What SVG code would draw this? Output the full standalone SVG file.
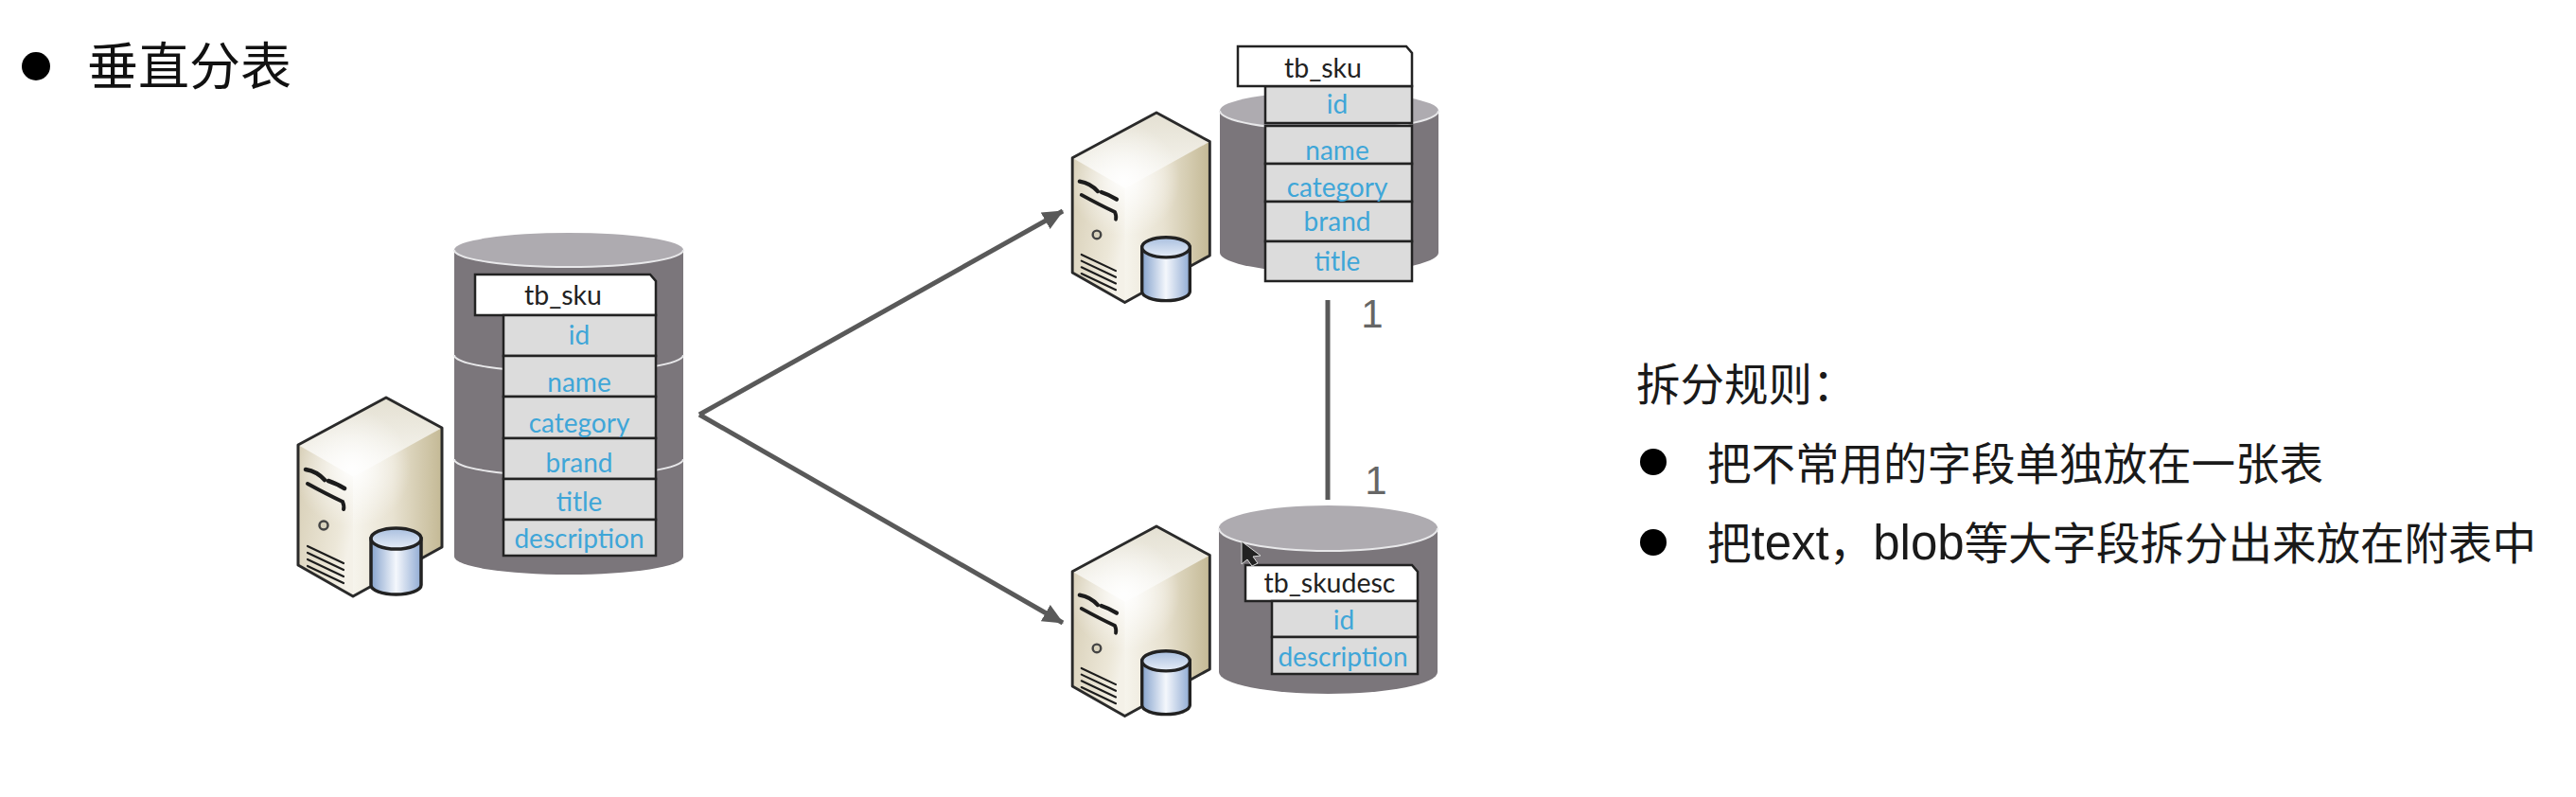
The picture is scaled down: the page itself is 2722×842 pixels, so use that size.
<svg xmlns="http://www.w3.org/2000/svg" width="2722" height="842" viewBox="0 0 2722 842">
<style>
.body{fill:#7b767b}
.lid{fill:#aeabb0}
.edge{fill:none;stroke:#e8e8ea;stroke-width:2}
.head{fill:#fff;stroke:#222;stroke-width:2.5}
.row{fill:#dcdcdc;stroke:#222;stroke-width:2.5}
.fld{font-family:Lato,"Liberation Sans",sans-serif;font-size:28px;fill:#3fa6d8;text-anchor:middle}
.tname{font-family:Lato,"Liberation Sans",sans-serif;font-size:28.5px;fill:#222;text-anchor:middle}
.zh{font-family:"Liberation Sans","Noto Sans CJK SC",sans-serif;font-size:46.5px;fill:#1a1a1a}
.lat{font-size:51px}
.num{font-family:"Liberation Sans",sans-serif;font-size:42px;fill:#666;text-anchor:middle}
.conn{fill:none;stroke:#595959;stroke-width:5}
.outl{fill:none;stroke:#2a2a2a;stroke-width:3;stroke-linejoin:round}
.vent{fill:none;stroke:#1c1c1c;stroke-linecap:round}
</style>
<defs>
<linearGradient id="gL" x1="0" y1="0" x2="1" y2="0.5"><stop offset="0" stop-color="#d6cdb4"/><stop offset="0.8" stop-color="#ece7d8"/><stop offset="1" stop-color="#f4f1e8"/></linearGradient>
<linearGradient id="gR" x1="0" y1="0" x2="1" y2="0"><stop offset="0" stop-color="#f6f4ec"/><stop offset="0.45" stop-color="#e8e2d1"/><stop offset="1" stop-color="#c4b995"/></linearGradient>
<linearGradient id="gT" x1="0" y1="0" x2="0" y2="1"><stop offset="0" stop-color="#e4e0d2"/><stop offset="1" stop-color="#faf9f5"/></linearGradient>
<radialGradient id="gH" gradientUnits="userSpaceOnUse" cx="372" cy="495" r="62"><stop offset="0" stop-color="#fff" stop-opacity=".95"/><stop offset="1" stop-color="#fff" stop-opacity="0"/></radialGradient>
<linearGradient id="gC" x1="0" y1="0" x2="1" y2="0"><stop offset="0" stop-color="#86a3cd"/><stop offset="0.5" stop-color="#f4f7fc"/><stop offset="1" stop-color="#90abd3"/></linearGradient>
<linearGradient id="gD" x1="0" y1="0" x2="0" y2="1"><stop offset="0" stop-color="#a9bfdf"/><stop offset="1" stop-color="#e6edf7"/></linearGradient>
<marker id="arr" markerUnits="userSpaceOnUse" markerWidth="22" markerHeight="22" refX="21" refY="11" orient="auto"><path d="M0 1L22 11L0 21Z" fill="#595959"/></marker>
<g id="server">
<path fill="url(#gT)" d="M408 420L467 452L373 506L315 470Z"/>
<path fill="url(#gL)" d="M315 470L374 504V630L315 597Z"/>
<path fill="url(#gR)" d="M373 504L467 452V578L373 630Z"/>
<path fill="url(#gH)" d="M408 420L467 452V578L373 630L315 597V470Z"/>
<path class="outl" d="M408 420L467 452V578L373 630L315 597V470Z"/>
<path class="vent" stroke-width="4.500" d="M323 496Q335 498 343 507M347 508Q356 511 364 516"/>
<path class="vent" stroke-width="4" d="M325 511Q345 522 362 530Q364 535 363 538"/>
<circle cx="342" cy="555" r="4.500" fill="#d8d2bd" stroke="#444" stroke-width="2.500"/>
<path class="vent" stroke-width="2.200" d="M325 577L363 595M325 584L363 602M325 591L363 609M325 598L363 616"/>
<path d="M392 569V618A26.500 10 0 0 0 445 618V569Z" fill="url(#gC)" stroke="#222" stroke-width="3.500"/>
<ellipse cx="418.500" cy="569" rx="26.500" ry="11" fill="url(#gD)" stroke="#222" stroke-width="3.500"/>
</g>
</defs>
<rect width="2722" height="842" fill="#fff"/>

<g id="connectors">
<path class="conn" marker-end="url(#arr)" d="M739 438L1123 223"/>
<path class="conn" marker-end="url(#arr)" d="M739 438L1123 658"/>
<path class="conn" d="M1403 317V528"/>
</g>

<g id="title">
<circle cx="38" cy="70" r="15" fill="#000"/>
<text x="92" y="90" style="font-family:'Noto Sans CJK SC',sans-serif;font-size:54px;fill:#111">垂直分表</text>
</g>

<g id="server-source"><use href="#server"/></g>
<g id="db-source">
<path class="body" d="M480 264V588A121 19 0 0 0 722 588V264Z"/>
<ellipse class="lid" cx="601" cy="264" rx="121" ry="18"/>
<path class="edge" d="M480 264A121 18 0 0 0 722 264M480 375A121 18 0 0 0 722 375M480 485A121 18 0 0 0 722 485"/>
<path class="head" d="M502 290H687L693 297V333H502Z"/>
<text class="tname" x="595" y="322">tb_sku</text>
<rect class="row" x="532" y="333" width="161" height="43"/>
<rect class="row" x="532" y="376" width="161" height="43"/>
<rect class="row" x="532" y="419" width="161" height="44"/>
<rect class="row" x="532" y="463" width="161" height="43"/>
<rect class="row" x="532" y="506" width="161" height="43"/>
<rect class="row" x="532" y="549" width="161" height="38"/>
<text class="fld" x="612" y="364">id</text>
<text class="fld" x="612" y="414">name</text>
<text class="fld" x="612" y="457">category</text>
<text class="fld" x="612" y="499">brand</text>
<text class="fld" x="612" y="540">title</text>
<text class="fld" x="612" y="579">description</text>
</g>

<g id="server-top"><use href="#server" transform="translate(1222 119) scale(.955) translate(-408 -420)"/></g>
<g id="db-top">
<path class="body" d="M1289 117V267A115.500 21 0 0 0 1520 267V117Z"/>
<ellipse class="lid" cx="1404.500" cy="117" rx="115.500" ry="20"/>
<path class="edge" d="M1289 117A115.500 20 0 0 0 1520 117"/>
<rect class="row" x="1337" y="91" width="155" height="39"/>
<rect class="row" x="1337" y="133" width="155" height="40"/>
<rect class="row" x="1337" y="173" width="155" height="40"/>
<rect class="row" x="1337" y="213" width="155" height="42"/>
<rect class="row" x="1337" y="255" width="155" height="42"/>
<path class="head" d="M1308 49H1486L1492 56V91H1308Z"/>
<text class="tname" x="1398" y="82">tb_sku</text>
<text class="fld" x="1413" y="120">id</text>
<text class="fld" x="1413" y="169">name</text>
<text class="fld" x="1413" y="208">category</text>
<text class="fld" x="1413" y="244">brand</text>
<text class="fld" x="1413" y="286">title</text>
</g>

<text class="num" x="1450" y="346">1</text>
<text class="num" x="1454" y="522">1</text>

<g id="server-bottom"><use href="#server" transform="translate(1222 556) scale(.955) translate(-408 -420)"/></g>
<g id="db-bottom">
<path class="body" d="M1288 558V710A115.500 23 0 0 0 1519 710V558Z"/>
<ellipse class="lid" cx="1403.500" cy="558" rx="115.500" ry="24"/>
<path class="edge" d="M1288 558A115.500 24 0 0 0 1519 558"/>
<path class="head" d="M1316 597H1492L1498 604V635H1316Z"/>
<text class="tname" x="1405" y="626">tb_skudesc</text>
<rect class="row" x="1344" y="635" width="154" height="38"/>
<rect class="row" x="1344" y="673" width="154" height="39"/>
<text class="fld" x="1420" y="665">id</text>
<text class="fld" x="1419" y="704">description</text>
<path d="M1312 572V596L1318 591L1323 598L1329 595L1324 588L1332 587Z" fill="#222" stroke="#ddd" stroke-width="1"/>
</g>

<g id="rules">
<text class="zh" x="1729" y="423">拆分规则：</text>
<circle cx="1747" cy="488" r="14" fill="#000"/>
<text class="zh" x="1804" y="507">把不常用的字段单独放在一张表</text>
<circle cx="1747" cy="573" r="14" fill="#000"/>
<text class="zh" x="1804" y="591">把<tspan class="lat">text</tspan>，<tspan class="lat">blob</tspan>等大字段拆分出来放在附表中</text>
</g>
</svg>
